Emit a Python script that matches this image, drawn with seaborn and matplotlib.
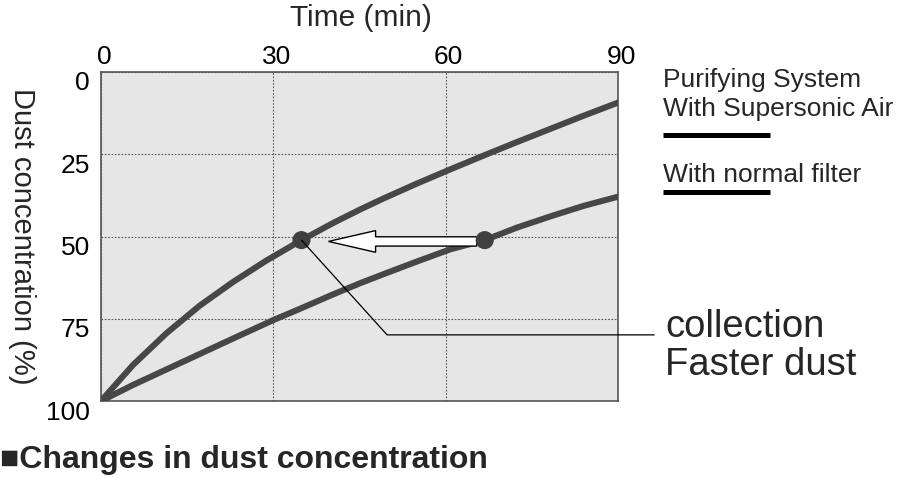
import matplotlib
matplotlib.use("Agg")
import matplotlib.pyplot as plt
import seaborn as sns
import pandas as pd
from matplotlib.lines import Line2D
from matplotlib.transforms import ScaledTranslation

# ---- data ----
time_supersonic = [0, 5.6, 11.4, 17.2, 23.0, 28.8, 34.9, 40.4, 45.1, 49.1, 55.0,
                   60.8, 66.6, 72.4, 78.2, 84.0, 90]
conc_supersonic = [100, 89.0, 79.4, 71.0, 63.8, 57.3, 51.1, 45.9, 41.8, 38.5, 33.9,
                   29.6, 25.4, 21.3, 17.3, 13.3, 9.3]
time_normal = [0, 5.6, 11.4, 17.2, 23.0, 30.0, 34.6, 40.4, 45.1, 49.1, 55.0,
               60.8, 66.8, 72.4, 78.2, 84.0, 90]
conc_normal = [100, 95.1, 90.4, 85.7, 81.0, 75.4, 72.0, 67.6, 64.2, 61.5, 57.6,
               53.9, 51.1, 47.3, 43.9, 40.7, 37.9]
marker_time = [34.9, 66.8]
marker_conc = [51.1, 51.1]
x_ticks = [0, 30, 60, 90]
y_ticks = [0, 25, 50, 75, 100]
arrow_from = (65.4, 51.5)
arrow_to = (39.6, 51.5)
leader_time = [34.9, 49.8, 96.3]
leader_conc = [51.1, 79.9, 79.9]

title = "■Changes in dust concentration"
x_label = "Time (min)"
y_label = "Dust concentration (%)"
legend_supersonic = ["Purifying System", "With Supersonic Air"]
legend_normal = "With normal filter"
note_lines = ["collection", "Faster dust"]

sns.set_theme(style="white")
plt.rcParams["font.family"] = ["Liberation Sans", "DejaVu Sans"]

W, H = 900, 478
fig = plt.figure(figsize=(W / 100, H / 100), dpi=100)
fig.patch.set_facecolor("white")


def fx(px):
    return px / W


def fy(py):
    return 1 - py / H


ax = fig.add_axes([fx(101), fy(401), 517 / W, 329 / H])
ax.set_facecolor("#e6e6e6")

df = pd.concat([
    pd.DataFrame({"time": time_supersonic, "conc": conc_supersonic, "series": "supersonic"}),
    pd.DataFrame({"time": time_normal, "conc": conc_normal, "series": "normal"}),
])
curve_color = "#474747"
sns.lineplot(data=df, x="time", y="conc", hue="series", palette=[curve_color, curve_color],
             linewidth=4.4, legend=False, ax=ax, sort=False, estimator=None, zorder=3,
             solid_capstyle="round", solid_joinstyle="round")

ax.set_xlim(0, 90)
ax.set_ylim(100, 0)
ax.xaxis.tick_top()
ax.set_xticks(x_ticks)
ax.set_yticks(y_ticks)
ax.set_xticklabels([str(v) for v in x_ticks])
ax.set_yticklabels([str(v) for v in y_ticks])
ax.tick_params(axis="both", length=0, labelsize=19, colors="black")
ax.tick_params(axis="x", pad=2.5)
ax.tick_params(axis="y", pad=8)
for lbl in ax.get_yticklabels():
    lbl.set_transform(lbl.get_transform() + ScaledTranslation(0, -0.09, fig.dpi_scale_trans))
for lbl in ax.get_xticklabels():
    lbl.set_transform(lbl.get_transform() + ScaledTranslation(0.03, 0, fig.dpi_scale_trans))
ax.set_xlabel("")
ax.set_ylabel("")
ax.grid(True, color="#555555", linestyle=(0, (1.5, 1.5)), linewidth=0.8)
for s in ax.spines.values():
    s.set_color("#555555")
    s.set_linewidth(1.2)

# arrow
ax.arrow(arrow_from[0], arrow_from[1], arrow_to[0] - arrow_from[0], 0,
         width=2.83, head_width=6.6, head_length=8.2, length_includes_head=True,
         fc="white", ec="black", lw=1.0, zorder=4)

# points
sns.scatterplot(x=marker_time, y=marker_conc, s=170, color="#404040", edgecolor="none",
                ax=ax, zorder=5, legend=False)

# leader line
ax.plot(leader_time, leader_conc, color="black", lw=0.9, clip_on=False, zorder=6)

# texts
fig.text(fx(361), fy(25.5), x_label, ha="center", va="baseline", fontsize=21.5)
fig.text(fx(22), fy(236), y_label, rotation=270, ha="center", va="center", fontsize=21)
fig.text(0.0, fy(468), title, ha="left", va="baseline", fontsize=23, fontweight="bold")

fig.text(fx(663), fy(87), legend_supersonic[0], ha="left", va="baseline", fontsize=19)
fig.text(fx(663), fy(116), legend_supersonic[1], ha="left", va="baseline", fontsize=19)
fig.add_artist(Line2D([fx(663), fx(770)], [fy(135), fy(135)], transform=fig.transFigure,
                      color="black", lw=3.6, solid_capstyle="butt"))
fig.text(fx(663), fy(182), legend_normal, ha="left", va="baseline", fontsize=19)
fig.add_artist(Line2D([fx(663), fx(770)], [fy(192), fy(192)], transform=fig.transFigure,
                      color="black", lw=3.6, solid_capstyle="butt"))

fig.text(fx(665), fy(337), note_lines[0], ha="left", va="baseline", fontsize=27.5)
fig.text(fx(665), fy(375), note_lines[1], ha="left", va="baseline", fontsize=27.5)

fig.savefig("out.png", dpi=100, facecolor="white")
